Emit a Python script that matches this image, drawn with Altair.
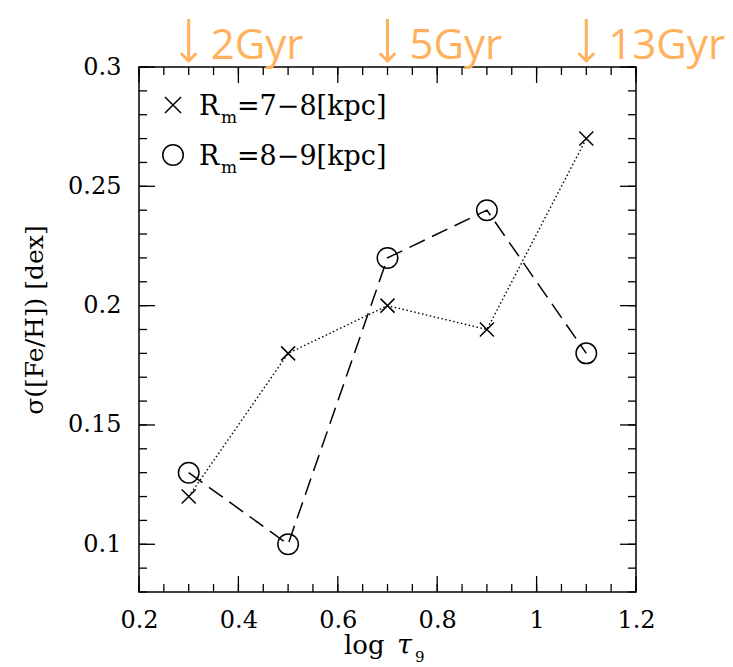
import altair as alt
import pandas as pd

# --- data -------------------------------------------------------------
log_tau = [0.3, 0.5, 0.7, 0.9, 1.1]
sigma_r78 = [0.12, 0.18, 0.20, 0.19, 0.27]   # R_m = 7-8 kpc (crosses, dotted)
sigma_r89 = [0.13, 0.10, 0.22, 0.24, 0.18]   # R_m = 8-9 kpc (circles, dashed)

age_x = [0.3, 0.7, 1.1]
age_labels = ["2Gyr", "5Gyr", "13Gyr"]

x_major = [0.2, 0.4, 0.6, 0.8, 1.0, 1.2]
y_major = [0.1, 0.15, 0.2, 0.25, 0.3]
x_minor = [round(0.2 + 0.05 * i, 2) for i in range(21)]
y_minor = [round(0.08 + 0.01 * i, 2) for i in range(23)]

legend_ranges = ["=7\u22128[kpc]", "=8\u22129[kpc]"]

# --- layout ------------------------------------------------------------
W, H = 497, 525
SERIF = "DejaVu Serif"
ORANGE = "#FFB15E"
X_PATH = "M-1,-1L1,1M-1,1L1,-1"
CHEVRON = "M-1,-1L0,0L1,-1"

df78 = pd.DataFrame({"x": log_tau, "y": sigma_r78})
df89 = pd.DataFrame({"x": log_tau, "y": sigma_r89})
ages = pd.DataFrame({"x": age_x, "label": age_labels})
one = pd.DataFrame({"k": [0]})

x_scale = alt.Scale(domain=[0.2, 1.2], nice=False, zero=False)
y_scale = alt.Scale(domain=[0.08, 0.3], nice=False, zero=False)

# every layer shares the same scale + axis definition so the axes merge
X = alt.X("x:Q", scale=x_scale, title=None,
          axis=alt.Axis(values=x_major, format="~g", labelPadding=16,
                        labelBaseline="top", labelFlush=False))
Y = alt.Y("y:Q", scale=y_scale, title=None,
          axis=alt.Axis(values=y_major, format="~g", labelPadding=18,
                        labelFlush=False))

line78 = alt.Chart(df78).mark_line(color="black", strokeWidth=1.4,
                                   strokeDash=[1.5, 2.5]).encode(x=X, y=Y)
line89 = alt.Chart(df89).mark_line(color="black", strokeWidth=1.5,
                                   strokeDash=[17, 8]).encode(x=X, y=Y)
pts78 = alt.Chart(df78).mark_point(shape=X_PATH, size=196, filled=False,
                                   color="black", strokeWidth=1.5,
                                   opacity=1).encode(x=X, y=Y)
pts89 = alt.Chart(df89).mark_point(shape="circle", size=420, filled=False,
                                   color="black", strokeWidth=1.5,
                                   opacity=1).encode(x=X, y=Y)

# inward ticks on all four sides of the frame
def xticks(vals, length):
    d = pd.DataFrame({"x": vals})
    bottom = alt.Chart(d).mark_rule(color="black", strokeWidth=1.3).encode(
        x=X, y=alt.value(H), y2=alt.value(H - length))
    top = alt.Chart(d).mark_rule(color="black", strokeWidth=1.3).encode(
        x=X, y=alt.value(0), y2=alt.value(length))
    return [bottom, top]

def yticks(vals, length):
    d = pd.DataFrame({"y": vals})
    left = alt.Chart(d).mark_rule(color="black", strokeWidth=1.3).encode(
        y=Y, x=alt.value(0), x2=alt.value(length))
    right = alt.Chart(d).mark_rule(color="black", strokeWidth=1.3).encode(
        y=Y, x=alt.value(W), x2=alt.value(W - length))
    return [left, right]

ticks = xticks(x_minor, 8) + xticks(x_major, 16) + yticks(y_minor, 8) + yticks(y_major, 16)

# legend drawn inside the frame
def txt(s, x, y, size, **kw):
    return alt.Chart(one).mark_text(text=s, font=SERIF, fontSize=size,
                                    color="black", align=kw.pop("align", "left"),
                                    baseline=kw.pop("baseline", "alphabetic"),
                                    **kw).encode(x=alt.value(x), y=alt.value(y))

legend = [
    alt.Chart(one).mark_point(shape=X_PATH, size=256, filled=False, color="black",
                              strokeWidth=1.5, opacity=1).encode(
        x=alt.value(34), y=alt.value(38)),
    alt.Chart(one).mark_point(shape="circle", size=420, filled=False, color="black",
                              strokeWidth=1.5, opacity=1).encode(
        x=alt.value(34), y=alt.value(88)),
]
for i, rng in enumerate(legend_ranges):
    base = 48 + 50 * i
    legend += [txt("R", 60, base, 27), txt("m", 82, base + 8, 17),
               txt(rng, 98, base, 27)]

# axis titles
titles = [
    txt("\u03c3([Fe/H]) [dex]", -104, 253, 25, angle=270, align="center",
        baseline="middle"),
    txt("log", 205, 587, 26),
    txt("\u03c4", 258, 587, 27, fontStyle="italic"),
    txt("9", 276, 595, 15),
]

# age markers above the frame
age_rule = alt.Chart(ages).mark_rule(color=ORANGE, strokeWidth=3).encode(
    x=X, y=alt.value(-48), y2=alt.value(-6))
age_head = alt.Chart(ages).mark_point(shape=CHEVRON, size=196, filled=False,
                                      color=ORANGE, strokeWidth=3, opacity=1,
                                      strokeCap="round", strokeJoin="round").encode(
    x=X, y=alt.value(-6))
age_text = alt.Chart(ages).mark_text(font="Open Sans", fontSize=42, color=ORANGE,
                                     align="left", baseline="alphabetic",
                                     dx=22).encode(
    x=X, y=alt.value(-8), text="label:N")

chart = alt.layer(
    line78, line89, pts78, pts89, *ticks, *legend, *titles,
    age_rule, age_head, age_text,
).properties(
    width=W, height=H,
    autosize=alt.AutoSizeParams(type="none"),
    padding={"left": 139, "top": 67, "right": 97, "bottom": 75},
    background="white",
).configure_view(
    stroke="black", strokeWidth=1.5
).configure_axis(
    labelFont=SERIF, labelFontSize=24, labelColor="black",
    ticks=False, domain=False, grid=False,
)

chart.save("out.html", embed_options={"renderer": "svg", "actions": False})
